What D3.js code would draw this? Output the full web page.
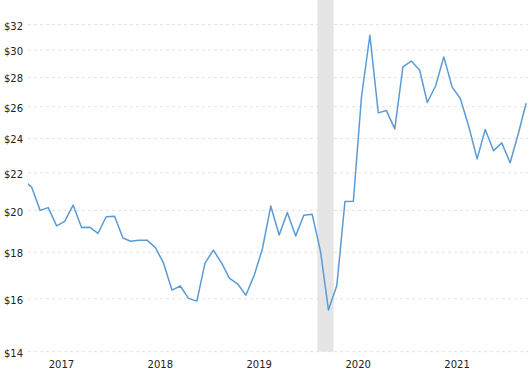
<!DOCTYPE html>
<html>
<head>
<meta charset="utf-8">
<script src="https://cdn.jsdelivr.net/npm/d3@7"></script>
<style>
html,body{margin:0;padding:0;background:#fff;}
svg{display:block;font-family:"DejaVu Sans",Verdana,sans-serif;}
</style>
</head>
<body>
<svg id="chart" width="531" height="370"></svg>
<script>
// Monthly values, Feb 2017 .. Mar 2022 (Feb 2017 is clipped at the left edge)
const startMonth = [2017, 1]; // year, month index (0-based) of first value
const prices = [
  21.57,
  21.22, 20.01, 20.15, 19.24, 19.46, 20.28, 19.16, 19.18, 18.88, 19.69,
  19.72, 18.66, 18.51, 18.55, 18.56, 18.21, 17.51, 16.36, 16.53, 16.02,
  15.91, 17.51, 18.10, 17.50, 16.86, 16.61, 16.15, 16.99, 18.15, 20.23,
  18.80, 19.90, 18.76, 19.76, 19.81, 18.02, 15.56, 16.55, 20.47, 20.48,
  26.65, 31.15, 25.60, 25.75, 24.59, 28.75, 29.18, 28.51, 26.28, 27.42,
  29.49, 27.32, 26.55, 24.75, 22.79, 24.55, 23.27, 23.73, 22.57, 24.33,
  26.23
];
const yTicks = [14, 16, 18, 20, 22, 24, 26, 28, 30, 32];
const yearLabels = [2017, 2018, 2019, 2020, 2021];
const recession = [new Date(2020, 1, 1), new Date(2020, 3, 1)];

const dates = prices.map((_, i) => new Date(startMonth[0], startMonth[1] + i, 13));
const data = prices.map((v, i) => ({date: dates[i], value: v}));

const svg = d3.select("#chart");
const plotLeft = 28, plotRight = 528, plotTop = 0, plotBottom = 351.7;

const x = d3.scaleTime()
  .domain([new Date(2017, 2, 13), new Date(2022, 2, 13)])
  .range([31.7, 526.1]);
const y = d3.scaleLog()
  .domain([14, 32])
  .range([351.7, 24.6]);

// recession band
svg.append("rect")
  .attr("x", x(recession[0]))
  .attr("y", plotTop)
  .attr("width", x(recession[1]) - x(recession[0]))
  .attr("height", plotBottom - plotTop)
  .attr("fill", "#e5e5e5");

// gridlines
svg.append("g").selectAll("line")
  .data(yTicks).join("line")
  .attr("x1", plotLeft).attr("x2", plotRight)
  .attr("y1", d => y(d)).attr("y2", d => y(d))
  .attr("stroke", "#e2e2e2")
  .attr("stroke-width", 1)
  .attr("stroke-dasharray", "3,3");

// y labels
svg.append("g").selectAll("text")
  .data(yTicks).join("text")
  .attr("x", 4)
  .attr("y", d => y(d) + 2)
  .attr("dominant-baseline", "middle")
  .attr("font-size", 10)
  .attr("fill", "#222")
  .text(d => "$" + d);

// x labels (centered in each year)
svg.append("g").selectAll("text")
  .data(yearLabels).join("text")
  .attr("x", d => x(new Date(d, 6, 1)))
  .attr("y", 368)
  .attr("text-anchor", "middle")
  .attr("font-size", 10)
  .attr("fill", "#222")
  .text(d => d);

// clip
svg.append("clipPath").attr("id", "clip")
  .append("rect").attr("x", plotLeft).attr("y", 0)
  .attr("width", plotRight - plotLeft).attr("height", 370);

const line = d3.line().x(d => x(d.date)).y(d => y(d.value));
svg.append("path")
  .datum(data)
  .attr("clip-path", "url(#clip)")
  .attr("d", line)
  .attr("fill", "none")
  .attr("stroke", "#5b9bd5")
  .attr("stroke-width", 1.5)
  .attr("stroke-linejoin", "round");
</script>
</body>
</html>
